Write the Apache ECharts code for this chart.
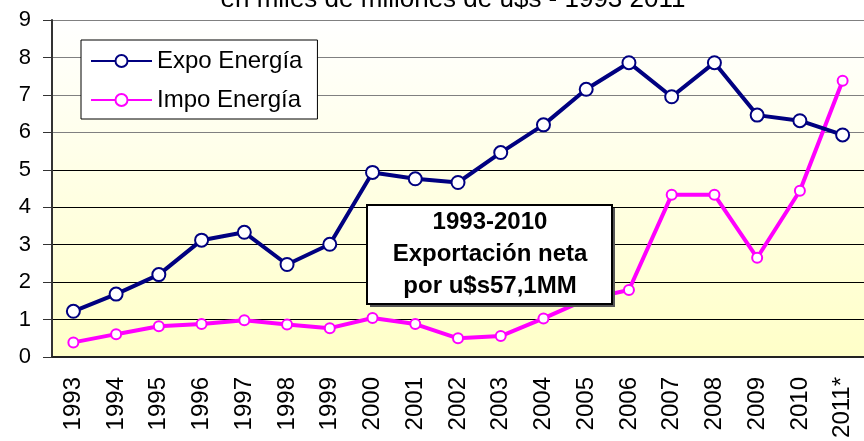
<!DOCTYPE html>
<html>
<head>
<meta charset="utf-8">
<script src="https://cdn.jsdelivr.net/npm/echarts@6/dist/echarts.min.js"></script>
<style>
  html, body { margin: 0; padding: 0; background: #ffffff; }
  #chart { width: 864px; height: 441px; }
</style>
</head>
<body>
<div id="chart"></div>
<script>
// categories and values (miles de millones de u$s)
const years = ['1993', '1994', '1995', '1996', '1997', '1998', '1999', '2000', '2001', '2002',
  '2003', '2004', '2005', '2006', '2007', '2008', '2009', '2010', '2011*'];
const expoEnergia = [1.22, 1.68, 2.2, 3.12, 3.33, 2.47, 3.01, 4.93, 4.76, 4.66,
  5.46, 6.2, 7.15, 7.86, 6.95, 7.86, 6.46, 6.31, 5.93];
const impoEnergia = [0.39, 0.61, 0.82, 0.88, 0.98, 0.87, 0.77, 1.04, 0.88, 0.5,
  0.56, 1.03, 1.54, 1.79, 4.33, 4.33, 2.65, 4.44, 7.38];
const yTicks = [0, 9, 1]; // min, max, interval

const titleText = 'en miles de millones de u$s - 1993 2011';
const noteLines = ['1993-2010', 'Exportación neta', 'por u$s57,1MM'];

const FONT = '"Liberation Sans", Arial, sans-serif';

const chart = echarts.init(document.getElementById('chart'));

chart.setOption({
  animation: false,
  textStyle: { fontFamily: FONT, color: '#000' },
  grid: {
    left: 52,
    top: 20,
    width: 830,
    height: 337,
    show: true,
    borderWidth: 0,
    backgroundColor: {
      type: 'linear', x: 0, y: 0, x2: 0, y2: 1,
      colorStops: [{ offset: 0, color: '#ffffff' }, { offset: 1, color: '#ffffc8' }]
    }
  },
  legend: {
    orient: 'vertical',
    left: 81,
    top: 40,
    padding: [9, 15, 7, 9],
    itemWidth: 61,
    itemHeight: 15,
    itemGap: 15,
    backgroundColor: '#ffffff',
    borderColor: '#000',
    borderWidth: 1,
    textStyle: { fontSize: 24, color: '#000', fontFamily: FONT },
    data: ['Expo Energía', 'Impo Energía']
  },
  xAxis: {
    type: 'category',
    data: years,
    axisLine: { lineStyle: { color: '#222', width: 2 } },
    axisTick: { length: 8, lineStyle: { color: '#222', width: 1 } },
    axisLabel: { interval: 0, rotate: 90, fontSize: 24, margin: 20, color: '#000', fontFamily: FONT }
  },
  yAxis: {
    type: 'value',
    min: yTicks[0],
    max: yTicks[1],
    interval: yTicks[2],
    axisLine: { show: true, lineStyle: { color: '#333', width: 2 } },
    axisTick: { show: true, length: 9, lineStyle: { color: '#333' } },
    axisLabel: { fontSize: 22, margin: 21, color: '#000', fontFamily: FONT },
    splitLine: {
      lineStyle: {
        color: ['#000', '#000', '#000', '#000', '#000', '#000', '#808080', '#808080', '#808080', '#808080'],
        width: 1
      }
    }
  },
  series: [
    {
      name: 'Expo Energía',
      type: 'line',
      data: expoEnergia,
      symbol: 'circle',
      symbolSize: 13,
      lineStyle: { color: '#000080', width: 4 },
      itemStyle: { color: '#ffffff', borderColor: '#000080', borderWidth: 2 },
      z: 3
    },
    {
      name: 'Impo Energía',
      type: 'line',
      data: impoEnergia,
      symbol: 'circle',
      symbolSize: 10,
      lineStyle: { color: '#ff00ff', width: 4 },
      itemStyle: { color: '#ffffff', borderColor: '#ff00ff', borderWidth: 2 },
      z: 2
    }
  ],
  graphic: [
    {
      type: 'text',
      x: 453,
      y: 0,
      style: {
        text: titleText,
        font: '26px ' + FONT,
        fill: '#000',
        textAlign: 'center',
        textVerticalAlign: 'middle'
      }
    },
    {
      type: 'rect',
      z: 100,
      shape: { x: 370, y: 208, width: 245, height: 99 },
      style: { fill: '#555' }
    },
    {
      type: 'rect',
      z: 101,
      shape: { x: 367, y: 205, width: 245, height: 99 },
      style: { fill: '#ffffff', stroke: '#000', lineWidth: 2 }
    },
    {
      type: 'text',
      z: 102,
      x: 490,
      y: 254,
      style: {
        text: noteLines.join('\n'),
        font: 'bold 24px ' + FONT,
        fill: '#000',
        lineHeight: 32,
        textAlign: 'center',
        textVerticalAlign: 'middle'
      }
    }
  ]
});
</script>
</body>
</html>
